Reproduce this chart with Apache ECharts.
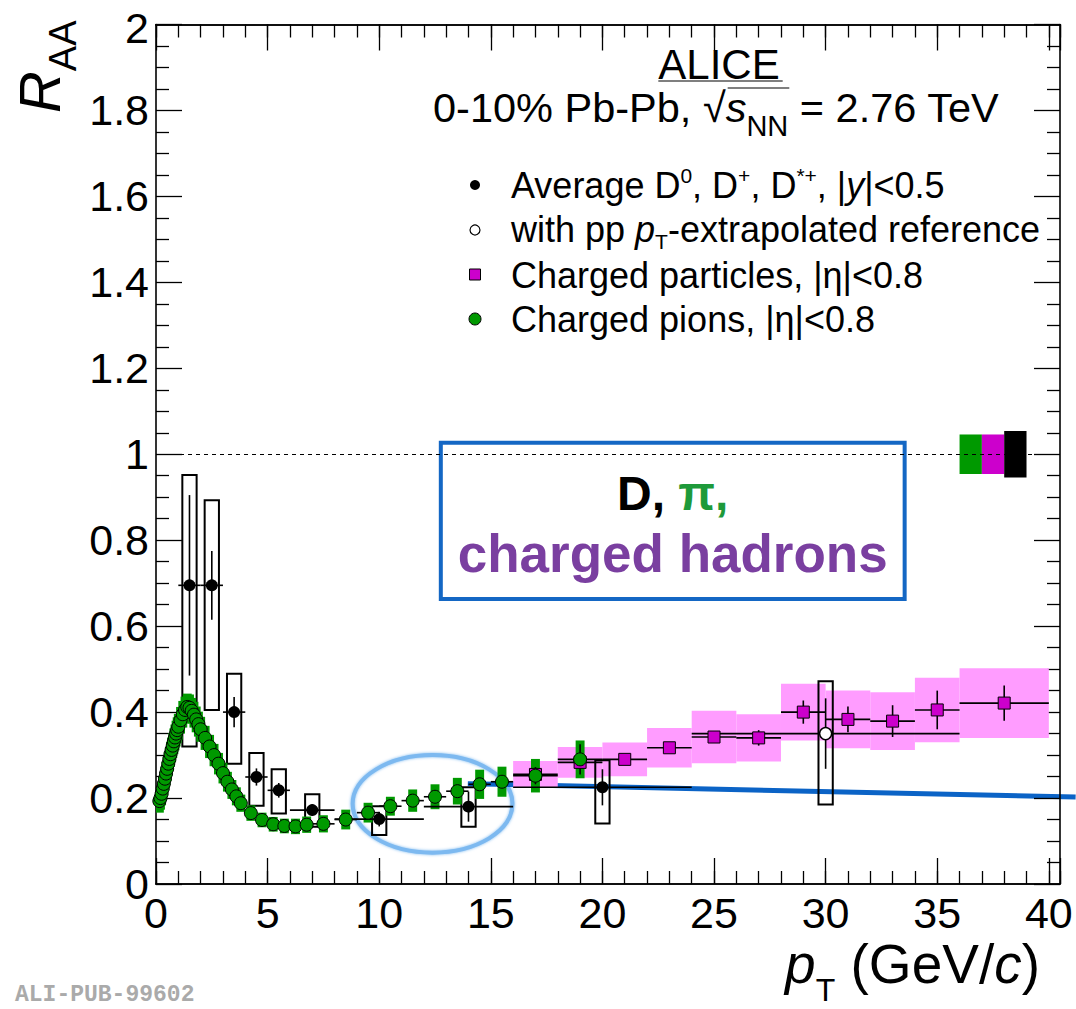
<!DOCTYPE html>
<html>
<head>
<meta charset="utf-8">
<script src="https://cdn.jsdelivr.net/npm/echarts@6/dist/echarts.min.js"></script>
<style>
  html, body { margin: 0; padding: 0; background: #ffffff; }
  #chart { width: 1076px; height: 1009px; }
</style>
</head>
<body>
<div id="chart"></div>
<script>
// ---------------- data ----------------
// Average D0, D+, D*+ (|y|<0.5)
const dPt      = [1.5, 2.5, 3.5, 4.5, 5.5, 7, 10, 14, 20];
const dPtLow   = [1, 2, 3, 4, 5, 6, 8, 12, 16];
const dPtHigh  = [2, 3, 4, 5, 6, 8, 12, 16, 24];
const dRaa     = [0.695, 0.695, 0.40, 0.249, 0.218, 0.172, 0.151, 0.18, 0.225];
const dStat    = [0.21, 0.08, 0.035, 0.02, 0.017, 0.013, 0.017, 0.035, 0.042];
const dSysTop  = [0.952, 0.893, 0.489, 0.305, 0.267, 0.209, 0.181, 0.225, 0.288];
const dSysBot  = [0.32, 0.405, 0.28, 0.182, 0.164, 0.133, 0.114, 0.133, 0.141];

// D mesons with pp pT-extrapolated reference
const dExtPt     = [30];
const dExtPtLow  = [24];
const dExtPtHigh = [36];
const dExtRaa    = [0.35];
const dExtStat   = [0.082];
const dExtSysTop = [0.472];
const dExtSysBot = [0.185];

// Charged particles (|eta|<0.8)
const chPt     = [17, 19, 21, 23, 25, 27, 29, 31, 33, 35, 38];
const chPtLow  = [16, 18, 20, 22, 24, 26, 28, 30, 32, 34, 36];
const chPtHigh = [18, 20, 22, 24, 26, 28, 30, 32, 34, 36, 40];
const chRaa    = [0.255, 0.283, 0.29, 0.317, 0.342, 0.34, 0.40, 0.383, 0.379, 0.405, 0.421];
const chStat   = [0.008, 0.009, 0.01, 0.01, 0.012, 0.018, 0.027, 0.03, 0.037, 0.045, 0.041];
const chSys    = [0.031, 0.036, 0.039, 0.046, 0.061, 0.055, 0.066, 0.067, 0.067, 0.075, 0.081];

// Charged pions (|eta|<0.8)
const piPt = [0.15, 0.2, 0.25, 0.3, 0.35, 0.4, 0.45, 0.5, 0.55, 0.6, 0.65, 0.7, 0.75, 0.8, 0.85, 0.9, 0.95, 1.0,
              1.1, 1.2, 1.3, 1.4, 1.5, 1.6, 1.7, 1.8, 1.9, 2.0,
              2.2, 2.4, 2.6, 2.8, 3.0, 3.2, 3.4, 3.6, 3.8,
              4.25, 4.75, 5.25, 5.75, 6.25, 6.75,
              7.5, 8.5, 9.5, 10.5, 11.5, 12.5, 13.5, 14.5, 15.5,
              17, 19];
const piRaa = [0.193, 0.200, 0.210, 0.222, 0.233, 0.245, 0.257, 0.268, 0.280, 0.291, 0.302, 0.312, 0.322, 0.332, 0.341, 0.350, 0.358, 0.366,
               0.381, 0.395, 0.405, 0.412, 0.410, 0.403, 0.394, 0.383, 0.372, 0.360,
               0.340, 0.320, 0.300, 0.280, 0.258, 0.238, 0.220, 0.204, 0.188,
               0.165, 0.149, 0.139, 0.135, 0.134, 0.138,
               0.140, 0.150, 0.166, 0.181, 0.194, 0.203, 0.216, 0.232, 0.238,
               0.252, 0.290];
const piHalfBin = [0.025, 0.025, 0.025, 0.025, 0.025, 0.025, 0.025, 0.025, 0.025, 0.025, 0.025, 0.025, 0.025, 0.025, 0.025, 0.025, 0.025, 0.025,
                   0.05, 0.05, 0.05, 0.05, 0.05, 0.05, 0.05, 0.05, 0.05, 0.05,
                   0.1, 0.1, 0.1, 0.1, 0.1, 0.1, 0.1, 0.1, 0.1,
                   0.25, 0.25, 0.25, 0.25, 0.25, 0.25,
                   0.5, 0.5, 0.5, 0.5, 0.5, 0.5, 0.5, 0.5, 0.5,
                   1, 1];
const piStat = [0.002, 0.002, 0.002, 0.002, 0.002, 0.002, 0.002, 0.002, 0.002, 0.002, 0.002, 0.002, 0.002, 0.002, 0.002, 0.002, 0.002, 0.002,
                0.002, 0.002, 0.002, 0.002, 0.002, 0.002, 0.002, 0.002, 0.002, 0.002,
                0.002, 0.002, 0.002, 0.002, 0.002, 0.002, 0.002, 0.002, 0.002,
                0.002, 0.002, 0.002, 0.003, 0.003, 0.003,
                0.004, 0.005, 0.006, 0.007, 0.008, 0.009, 0.01, 0.012, 0.014,
                0.02, 0.035];
const piSys = [0.027, 0.027, 0.027, 0.027, 0.027, 0.027, 0.027, 0.028, 0.028, 0.028, 0.029, 0.029, 0.029, 0.03, 0.03, 0.03, 0.03, 0.03,
               0.031, 0.031, 0.031, 0.031, 0.031, 0.03, 0.03, 0.03, 0.029, 0.029,
               0.028, 0.027, 0.026, 0.025, 0.024, 0.023, 0.022, 0.021, 0.02,
               0.018, 0.017, 0.017, 0.017, 0.018, 0.019,
               0.02, 0.023, 0.023, 0.022, 0.026, 0.029, 0.031, 0.034, 0.035,
               0.039, 0.044];

// Global normalisation uncertainties at RAA = 1 (pions, charged particles, D mesons)
const normPtLow  = [36, 37, 38];
const normPtHigh = [37, 38, 39];
const normErr    = [0.046, 0.046, 0.054];

// Axis ticks
const xMin = 0, xMax = 40.5, xMajor = 5, xMinor = 1;
const yMin = 0, yMax = 2, yMajor = 0.2;

// ---------------- styling ----------------
const FONT = '"Liberation Sans", Arial, Helvetica, sans-serif';
const PI_GREEN = '#009900';
const CH_MAGENTA = '#cc00cc';
const CH_BAND = '#ff9cff';
const PI_BOX_HALF = 0.2;   // GeV, half width of pion systematic boxes
const D_BOX_HALF = 0.32;   // GeV, half width of D-meson systematic boxes

// ---------------- rows for the series ----------------
const dErrRows = dPt.map((x, i) => [x, dRaa[i], dPtLow[i], dPtHigh[i], dRaa[i] - dStat[i], dRaa[i] + dStat[i]]);
const dBoxRows = dPt.map((x, i) => [x - D_BOX_HALF, x + D_BOX_HALF, dSysBot[i], dSysTop[i]]);
const dExtErrRows = dExtPt.map((x, i) => [x, dExtRaa[i], dExtPtLow[i], dExtPtHigh[i], dExtRaa[i] - dExtStat[i], dExtRaa[i] + dExtStat[i]]);
const dExtBoxRows = dExtPt.map((x, i) => [x - D_BOX_HALF, x + D_BOX_HALF, dExtSysBot[i], dExtSysTop[i]]);
const chErrRows = chPt.map((x, i) => [x, chRaa[i], chPtLow[i], chPtHigh[i], chRaa[i] - chStat[i], chRaa[i] + chStat[i]]);
const chBandRows = chPt.map((x, i) => [chPtLow[i], chPtHigh[i], chRaa[i] - chSys[i], chRaa[i] + chSys[i]]);
const piErrRows = piPt.map((x, i) => [x, piRaa[i], x - piHalfBin[i], x + piHalfBin[i], piRaa[i] - piStat[i], piRaa[i] + piStat[i]]);
const piBoxRows = piPt.map((x, i) => [x - PI_BOX_HALF, x + PI_BOX_HALF, piRaa[i] - piSys[i], piRaa[i] + piSys[i]]);
const normRows = normPtLow.map((x, i) => [x, normPtHigh[i], 1 - normErr[i], 1 + normErr[i], i]);
const NORM_COLORS = [PI_GREEN, CH_MAGENTA, '#000000'];

// rectangles spanning [x0, x1] x [y0, y1] in data units
function boxSeries(rows, styleFn) {
  return {
    type: 'custom', xAxisIndex: 0, yAxisIndex: 0, silent: true, clip: true,
    data: rows, encode: { x: [0, 1], y: [2, 3] },
    renderItem(params, api) {
      const a = api.coord([api.value(0), api.value(3)]);
      const b = api.coord([api.value(1), api.value(2)]);
      return {
        type: 'rect',
        shape: { x: a[0], y: a[1], width: b[0] - a[0], height: b[1] - a[1] },
        style: styleFn(params.dataIndex, api)
      };
    }
  };
}

// horizontal bin-width bar + vertical statistical bar
function errorSeries(rows, color, width) {
  return {
    type: 'custom', xAxisIndex: 0, yAxisIndex: 0, silent: true, clip: true,
    data: rows, encode: { x: [0, 2, 3], y: [1, 4, 5] },
    renderItem(params, api) {
      const c = api.coord([api.value(0), api.value(1)]);
      const l = api.coord([api.value(2), api.value(1)]);
      const r = api.coord([api.value(3), api.value(1)]);
      const lo = api.coord([api.value(0), api.value(4)]);
      const hi = api.coord([api.value(0), api.value(5)]);
      return {
        type: 'group',
        children: [
          { type: 'line', shape: { x1: l[0], y1: c[1], x2: r[0], y2: c[1] }, style: { stroke: color, lineWidth: width } },
          { type: 'line', shape: { x1: c[0], y1: lo[1], x2: c[0], y2: hi[1] }, style: { stroke: color, lineWidth: width } }
        ]
      };
    }
  };
}

// ---------------- axes ----------------
const tickStyle = { color: '#000', width: 1.3 };
function xAxisDef(position, interval, tickLen, labels) {
  return {
    type: 'value', position, min: xMin, max: xMax, interval,
    axisLine: { show: true, onZero: false, lineStyle: { color: '#000', width: 1.6 } },
    axisTick: { show: true, inside: true, length: tickLen, lineStyle: tickStyle },
    axisLabel: labels ? {
      show: true, fontFamily: FONT, fontSize: 43, lineHeight: 34, color: '#000', margin: 12,
      formatter: v => (Math.abs(v % xMajor) < 1e-9 ? String(v) : '')
    } : { show: false },
    splitLine: { show: false }
  };
}
function yAxisDef(position, labels) {
  return {
    type: 'value', position, min: yMin, max: yMax, interval: yMajor,
    axisLine: { show: true, onZero: false, lineStyle: { color: '#000', width: 1.6 } },
    axisTick: { show: true, inside: true, length: 26, lineStyle: tickStyle },
    minorTick: { show: true, splitNumber: 4, length: 13, lineStyle: tickStyle },
    axisLabel: labels ? {
      show: true, fontFamily: FONT, fontSize: 43, lineHeight: 30, color: '#000', margin: 7,
      // the topmost label is nudged down so it stays inside the page
      formatter: v => (v >= yMax ? `{top|${String(parseFloat(v.toFixed(2)))}}` : String(parseFloat(v.toFixed(2)))),
      rich: { top: { fontFamily: FONT, fontSize: 43, lineHeight: 30, color: '#000', padding: [6, 0, 0, 0] } }
    } : { show: false },
    splitLine: { show: false }, minorSplitLine: { show: false }
  };
}

const option = {
  animation: false,
  backgroundColor: '#ffffff',
  grid: { left: 156, right: 16, top: 21, bottom: 125, containLabel: false },
  xAxis: [
    xAxisDef('bottom', xMajor, 26, true),
    xAxisDef('bottom', xMinor, 13, false),
    xAxisDef('top', xMajor, 26, false),
    xAxisDef('top', xMinor, 13, false)
  ],
  yAxis: [yAxisDef('left', true), yAxisDef('right', false)],
  series: [
    // charged-particle systematic bands, with the RAA = 1 reference line
    Object.assign(boxSeries(chBandRows, () => ({ fill: CH_BAND })), {
      markLine: {
        silent: true, symbol: 'none', label: { show: false },
        lineStyle: { color: '#000', width: 1, type: [4, 4] },
        data: [{ yAxis: 1 }]
      }
    }),
    // normalisation boxes
    boxSeries(normRows, (i) => ({ fill: NORM_COLORS[i] })),
    // D-meson systematic boxes
    boxSeries(dBoxRows, () => ({ fill: 'none', stroke: '#000', lineWidth: 2 })),
    boxSeries(dExtBoxRows, () => ({ fill: 'none', stroke: '#000', lineWidth: 2 })),
    // charged particles
    errorSeries(chErrRows, '#000', 1.6),
    {
      type: 'scatter', name: 'Charged particles', xAxisIndex: 0, yAxisIndex: 0,
      data: chPt.map((x, i) => [x, chRaa[i]]), symbol: 'rect', symbolSize: 12,
      itemStyle: { color: CH_MAGENTA, borderColor: '#000', borderWidth: 1, opacity: 1 }
    },
    // pions
    boxSeries(piBoxRows, () => ({ fill: PI_GREEN })),
    errorSeries(piErrRows, '#000', 1.6),
    {
      type: 'scatter', name: 'Charged pions', xAxisIndex: 0, yAxisIndex: 0,
      data: piPt.map((x, i) => [x, piRaa[i]]), symbol: 'circle', symbolSize: 13,
      itemStyle: { color: PI_GREEN, borderColor: '#000', borderWidth: 1, opacity: 1 }
    },
    // D mesons
    errorSeries(dErrRows, '#000', 1.6),
    {
      type: 'scatter', name: 'Average D', xAxisIndex: 0, yAxisIndex: 0,
      data: dPt.map((x, i) => [x, dRaa[i]]), symbol: 'circle', symbolSize: 12,
      itemStyle: { color: '#000', opacity: 1 }
    },
    errorSeries(dExtErrRows, '#000', 1.6),
    {
      type: 'scatter', name: 'with pp reference', xAxisIndex: 0, yAxisIndex: 0,
      data: dExtPt.map((x, i) => [x, dExtRaa[i]]), symbol: 'circle', symbolSize: 12,
      itemStyle: { color: '#fff', borderColor: '#000', borderWidth: 1.4, opacity: 1 }
    }
  ]
};

const chart = echarts.init(document.getElementById('chart'), null, { renderer: 'svg' });
chart.setOption(option);

// ---------------- text helpers ----------------
const measureCtx = document.createElement('canvas').getContext('2d');
function textWidth(str, font) { measureCtx.font = font; return measureCtx.measureText(str).width; }
const fontOf = p => `${p.italic ? 'italic ' : ''}${p.bold ? 'bold ' : ''}${p.size}px ${FONT}`;

// Lays out a line made of runs (normal, italic, sub- and superscripts) on a common baseline.
// Each run: { t, size, italic, bold, dy (baseline shift, + is down), fill }
function runLine(x, baseline, parts, align) {
  const widths = parts.map(p => textWidth(p.t, fontOf(p)));
  const total = widths.reduce((a, b) => a + b, 0);
  let cx = align === 'right' ? x - total : align === 'center' ? x - total / 2 : x;
  const starts = [];
  const els = [];
  parts.forEach((p, i) => {
    starts.push(cx);
    const lead = p.t.length - p.t.replace(/^\s+/, '').length;
    const leadW = lead ? textWidth(p.t.slice(0, lead), fontOf(p)) : 0;
    const shown = p.t.trim();
    if (shown) {
      els.push({
        type: 'text', x: cx + leadW, y: baseline + (p.dy || 0) - 0.358 * p.size,
        style: { text: shown, font: fontOf(p), fill: p.fill || '#000', align: 'left', verticalAlign: 'middle', lineHeight: Math.round(p.size * 0.9) }
      });
    }
    cx += widths[i];
  });
  starts.push(cx);
  return { els, starts };
}

// ---------------- annotations, legend and titles ----------------
const toPx = (x, y) => chart.convertToPixel({ gridIndex: 0 }, [x, y]);

// highlighted box, ellipse and guide line (data coordinates)
const boxA = toPx(12.76, 1.027), boxB = toPx(33.54, 0.663);
const ellC = toPx(12.39, 0.1865), ellR = toPx(12.39 + 3.58, 0.1865 + 0.1135);
const lineA = toPx(13.97, 0.2335), lineB = toPx(41.2, 0.2023);
const boxMid = (boxA[0] + boxB[0]) / 2;
const row1 = toPx(0, 0.909)[1], row2 = toPx(0, 0.768)[1];

// header
const H = 41.5;
const ALICE_SIZE = 42;
const aliceW = textWidth('ALICE', `${ALICE_SIZE}px ${FONT}`);
const header = runLine(433, 122, [
  { t: '0-10% Pb-Pb, ', size: H },
  { t: '√', size: H },
  { t: 's', size: H, italic: true },
  { t: 'NN', size: 29, dy: 14 },
  { t: ' = 2.76 TeV', size: H }
], 'left');

// legend rows
const L = 36;
const legendRow1 = runLine(511, 198, [
  { t: 'Average D', size: L }, { t: '0', size: 21, dy: -15 },
  { t: ', D', size: L }, { t: '+', size: 21, dy: -15 },
  { t: ', D', size: L }, { t: '*+', size: 21, dy: -15 },
  { t: ', |', size: L }, { t: 'y', size: L, italic: true }, { t: '|<0.5', size: L }
], 'left');
const legendRow2 = runLine(511, 242, [
  { t: 'with pp ', size: L }, { t: 'p', size: L, italic: true }, { t: 'T', size: 21, dy: 7 },
  { t: '-extrapolated reference', size: L }
], 'left');
const legendRow3 = runLine(511, 288, [{ t: 'Charged particles, |η|<0.8', size: L }], 'left');
const legendRow4 = runLine(511, 332, [{ t: 'Charged pions, |η|<0.8', size: L }], 'left');

// x-axis title
const xTitle = runLine(1040, 984, [
  { t: 'p', size: 55, italic: true }, { t: 'T', size: 32, dy: 17 },
  { t: ' (GeV/', size: 55 }, { t: 'c', size: 55, italic: true }, { t: ')', size: 55 }
], 'right');

chart.setOption({
  graphic: [
    // ALICE header
    { type: 'text', x: 719, y: 64, style: { text: 'ALICE', font: `${ALICE_SIZE}px ${FONT}`, fill: '#000', align: 'center', verticalAlign: 'middle', lineHeight: 34 } },
    { type: 'line', shape: { x1: 719 - aliceW / 2, y1: 81, x2: 719 + aliceW / 2 + 3, y2: 81 }, style: { stroke: '#000', lineWidth: 1.2 } },
    ...header.els,
    { type: 'line', shape: { x1: header.starts[2] + 2, y1: 88, x2: header.starts[4] + 1, y2: 88 }, style: { stroke: '#000', lineWidth: 1.2 } },

    // legend markers
    { type: 'circle', shape: { cx: 475, cy: 185, r: 5 }, style: { fill: '#000' } },
    { type: 'circle', shape: { cx: 475, cy: 230, r: 5 }, style: { fill: '#fff', stroke: '#000', lineWidth: 1.2 } },
    { type: 'rect', shape: { x: 469.5, y: 269, width: 11, height: 11 }, style: { fill: CH_MAGENTA, stroke: '#000', lineWidth: 1 } },
    { type: 'circle', shape: { cx: 475, cy: 319, r: 6 }, style: { fill: PI_GREEN, stroke: '#000', lineWidth: 1 } },
    // legend entries
    ...legendRow1.els, ...legendRow2.els, ...legendRow3.els, ...legendRow4.els,

    // highlight box
    { type: 'rect', shape: { x: boxA[0], y: boxA[1], width: boxB[0] - boxA[0], height: boxB[1] - boxA[1] },
      style: { fill: 'none', stroke: '#1467c4', lineWidth: 4 } },
    {
      type: 'text', x: boxMid, y: row1,
      style: {
        text: '{d|D, }{p|π,}', align: 'center', verticalAlign: 'middle',
        rich: {
          d: { fontFamily: FONT, fontWeight: 'bold', fontSize: 48, fill: '#000' },
          p: { fontFamily: FONT, fontWeight: 'bold', fontSize: 48, fill: '#1e9a3a' }
        }
      }
    },
    { type: 'text', x: boxMid, y: row2,
      style: { text: 'charged hadrons', font: `bold 53px ${FONT}`, fill: '#7a3fa0', align: 'center', verticalAlign: 'middle' } },

    // ellipse around the intermediate-pT region
    { type: 'ellipse', shape: { cx: ellC[0], cy: ellC[1], rx: ellR[0] - ellC[0], ry: ellC[1] - ellR[1] },
      style: { fill: 'none', stroke: '#7db9f0', lineWidth: 4, shadowBlur: 3, shadowColor: '#7db9f0' } },
    // guide line
    { type: 'line', shape: { x1: lineA[0], y1: lineA[1], x2: lineB[0], y2: lineB[1] },
      style: { stroke: '#0b63c6', lineWidth: 5 } },

    // y-axis title
    {
      type: 'text', x: 39, y: 113, rotation: Math.PI / 2,
      style: {
        text: '{r|R}{a|AA}', align: 'left', verticalAlign: 'middle',
        rich: {
          r: { fontFamily: FONT, fontStyle: 'italic', fontSize: 58, lineHeight: 86, fill: '#000' },
          a: { fontFamily: FONT, fontSize: 38, lineHeight: 38, fill: '#000', verticalAlign: 'bottom' }
        }
      }
    },
    // x-axis title
    ...xTitle.els,

    // figure id
    { type: 'text', x: 15, y: 995, style: { text: 'ALI-PUB-99602', font: 'bold 23px "Liberation Mono", "DejaVu Sans Mono", monospace', fill: '#aaaaaa', verticalAlign: 'middle', lineHeight: 20 } }
  ]
});
</script>
</body>
</html>
